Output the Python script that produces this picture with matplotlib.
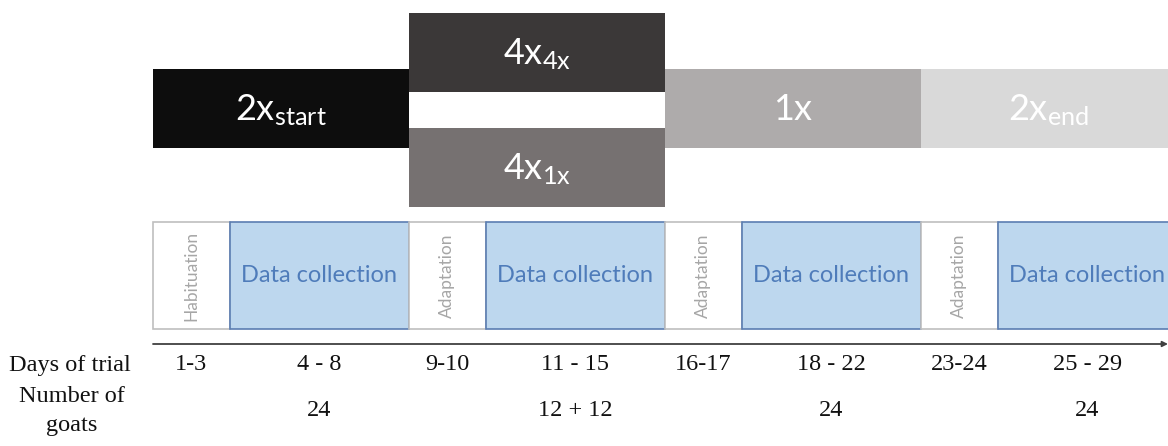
import matplotlib.pyplot as plt
from matplotlib.patches import Rectangle

plt.rcParams['mathtext.fontset'] = 'custom'
plt.rcParams['mathtext.rm'] = 'Lato'
plt.rcParams['mathtext.it'] = 'Lato:italic'

# treatment bars (period index, row, main label, subscript, colour)
bar_period = [0, 1, 1, 2, 3]
bar_row = ["mid", "top", "bottom", "mid", "mid"]
bar_main = ["2x", "4x", "4x", "1x", "2x"]
bar_sub = ["start", "4x", "1x", "", "end"]
bar_colors = ["#0d0d0d", "#3b3838", "#767171", "#aeabab", "#d9d9d9"]

# stages inside each period
stage_names = ["Habituation", "Data collection", "Adaptation", "Data collection",
               "Adaptation", "Data collection", "Adaptation", "Data collection"]
days = ["1-3", "4 - 8", "9-10", "11 - 15", "16-17", "18 - 22", "23-24", "25 - 29"]
goats = ["24", "12 + 12", "24", "24"]

# layout (pixels)
W, H = 1168, 446
x0 = 153
period = 256
pre_frac = 0.3
rows = {"top": (13, 92), "mid": (69, 148), "bottom": (128, 207)}
stage_y = (222, 329)
axis_y = 344
days_y = 365
goats_y = 411

fig = plt.figure(figsize=(W / 100, H / 100), dpi=100)
ax = fig.add_axes([0, 0, 1, 1])
ax.set_xlim(0, W)
ax.set_ylim(H, 0)
ax.axis("off")

# top bars
for p, r, m, s, c in zip(bar_period, bar_row, bar_main, bar_sub, bar_colors):
    left = x0 + p * period
    y1, y2 = rows[r]
    ax.add_patch(Rectangle((left, y1), period, y2 - y1, facecolor=c, edgecolor="none"))
    lab = r"$\mathrm{%s}_{\mathrm{%s}}$" % (m, s) if s else r"$\mathrm{%s}$" % m
    ax.text(left + period / 2, (y1 + y2) / 2 + 2, lab, color="white", fontsize=26,
            ha="center", va="center")

# stage boxes
for i, name in enumerate(stage_names):
    p = i // 2
    if i % 2 == 0:
        left = x0 + p * period
        w = period * pre_frac
        ax.add_patch(Rectangle((left, stage_y[0]), w, stage_y[1] - stage_y[0],
                               facecolor="white", edgecolor="#bfbfbf", lw=1.2))
        ax.text(left + w / 2, (stage_y[0] + stage_y[1]) / 2, name, rotation=90,
                color="#a6a6a6", fontsize=12.5, family="Lato", ha="center", va="center")
    else:
        left = x0 + p * period + period * pre_frac
        w = period * (1 - pre_frac)
        ax.add_patch(Rectangle((left, stage_y[0]), w, stage_y[1] - stage_y[0],
                               facecolor="#bdd7ee", edgecolor="#5b7db1", lw=1.2))
        ax.text(left + w / 2, (stage_y[0] + stage_y[1]) / 2, name,
                color="#4f7cba", fontsize=17, family="Lato", ha="center", va="center")
    ax.text(left + w / 2, days_y, days[i], fontsize=17.5, family="Liberation Serif",
            ha="center", va="center", color="#111111")
    if i % 2 == 1:
        ax.text(left + w / 2, goats_y, goats[p], fontsize=17.5, family="Liberation Serif",
                ha="center", va="center", color="#111111")

# time axis
ax.annotate("", xy=(W, axis_y), xytext=(x0, axis_y),
            arrowprops=dict(arrowstyle="-|>", color="#404040", lw=1.3,
                            mutation_scale=8, shrinkA=0, shrinkB=0))

ax.text(131, days_y, "Days of trial", fontsize=17.5, family="Liberation Serif",
        ha="right", va="center", color="#111111")
ax.text(72, goats_y, "Number of\ngoats", fontsize=17.5, family="Liberation Serif",
        ha="center", va="center", color="#111111", linespacing=1.45)

fig.savefig("out.png", dpi=100)
